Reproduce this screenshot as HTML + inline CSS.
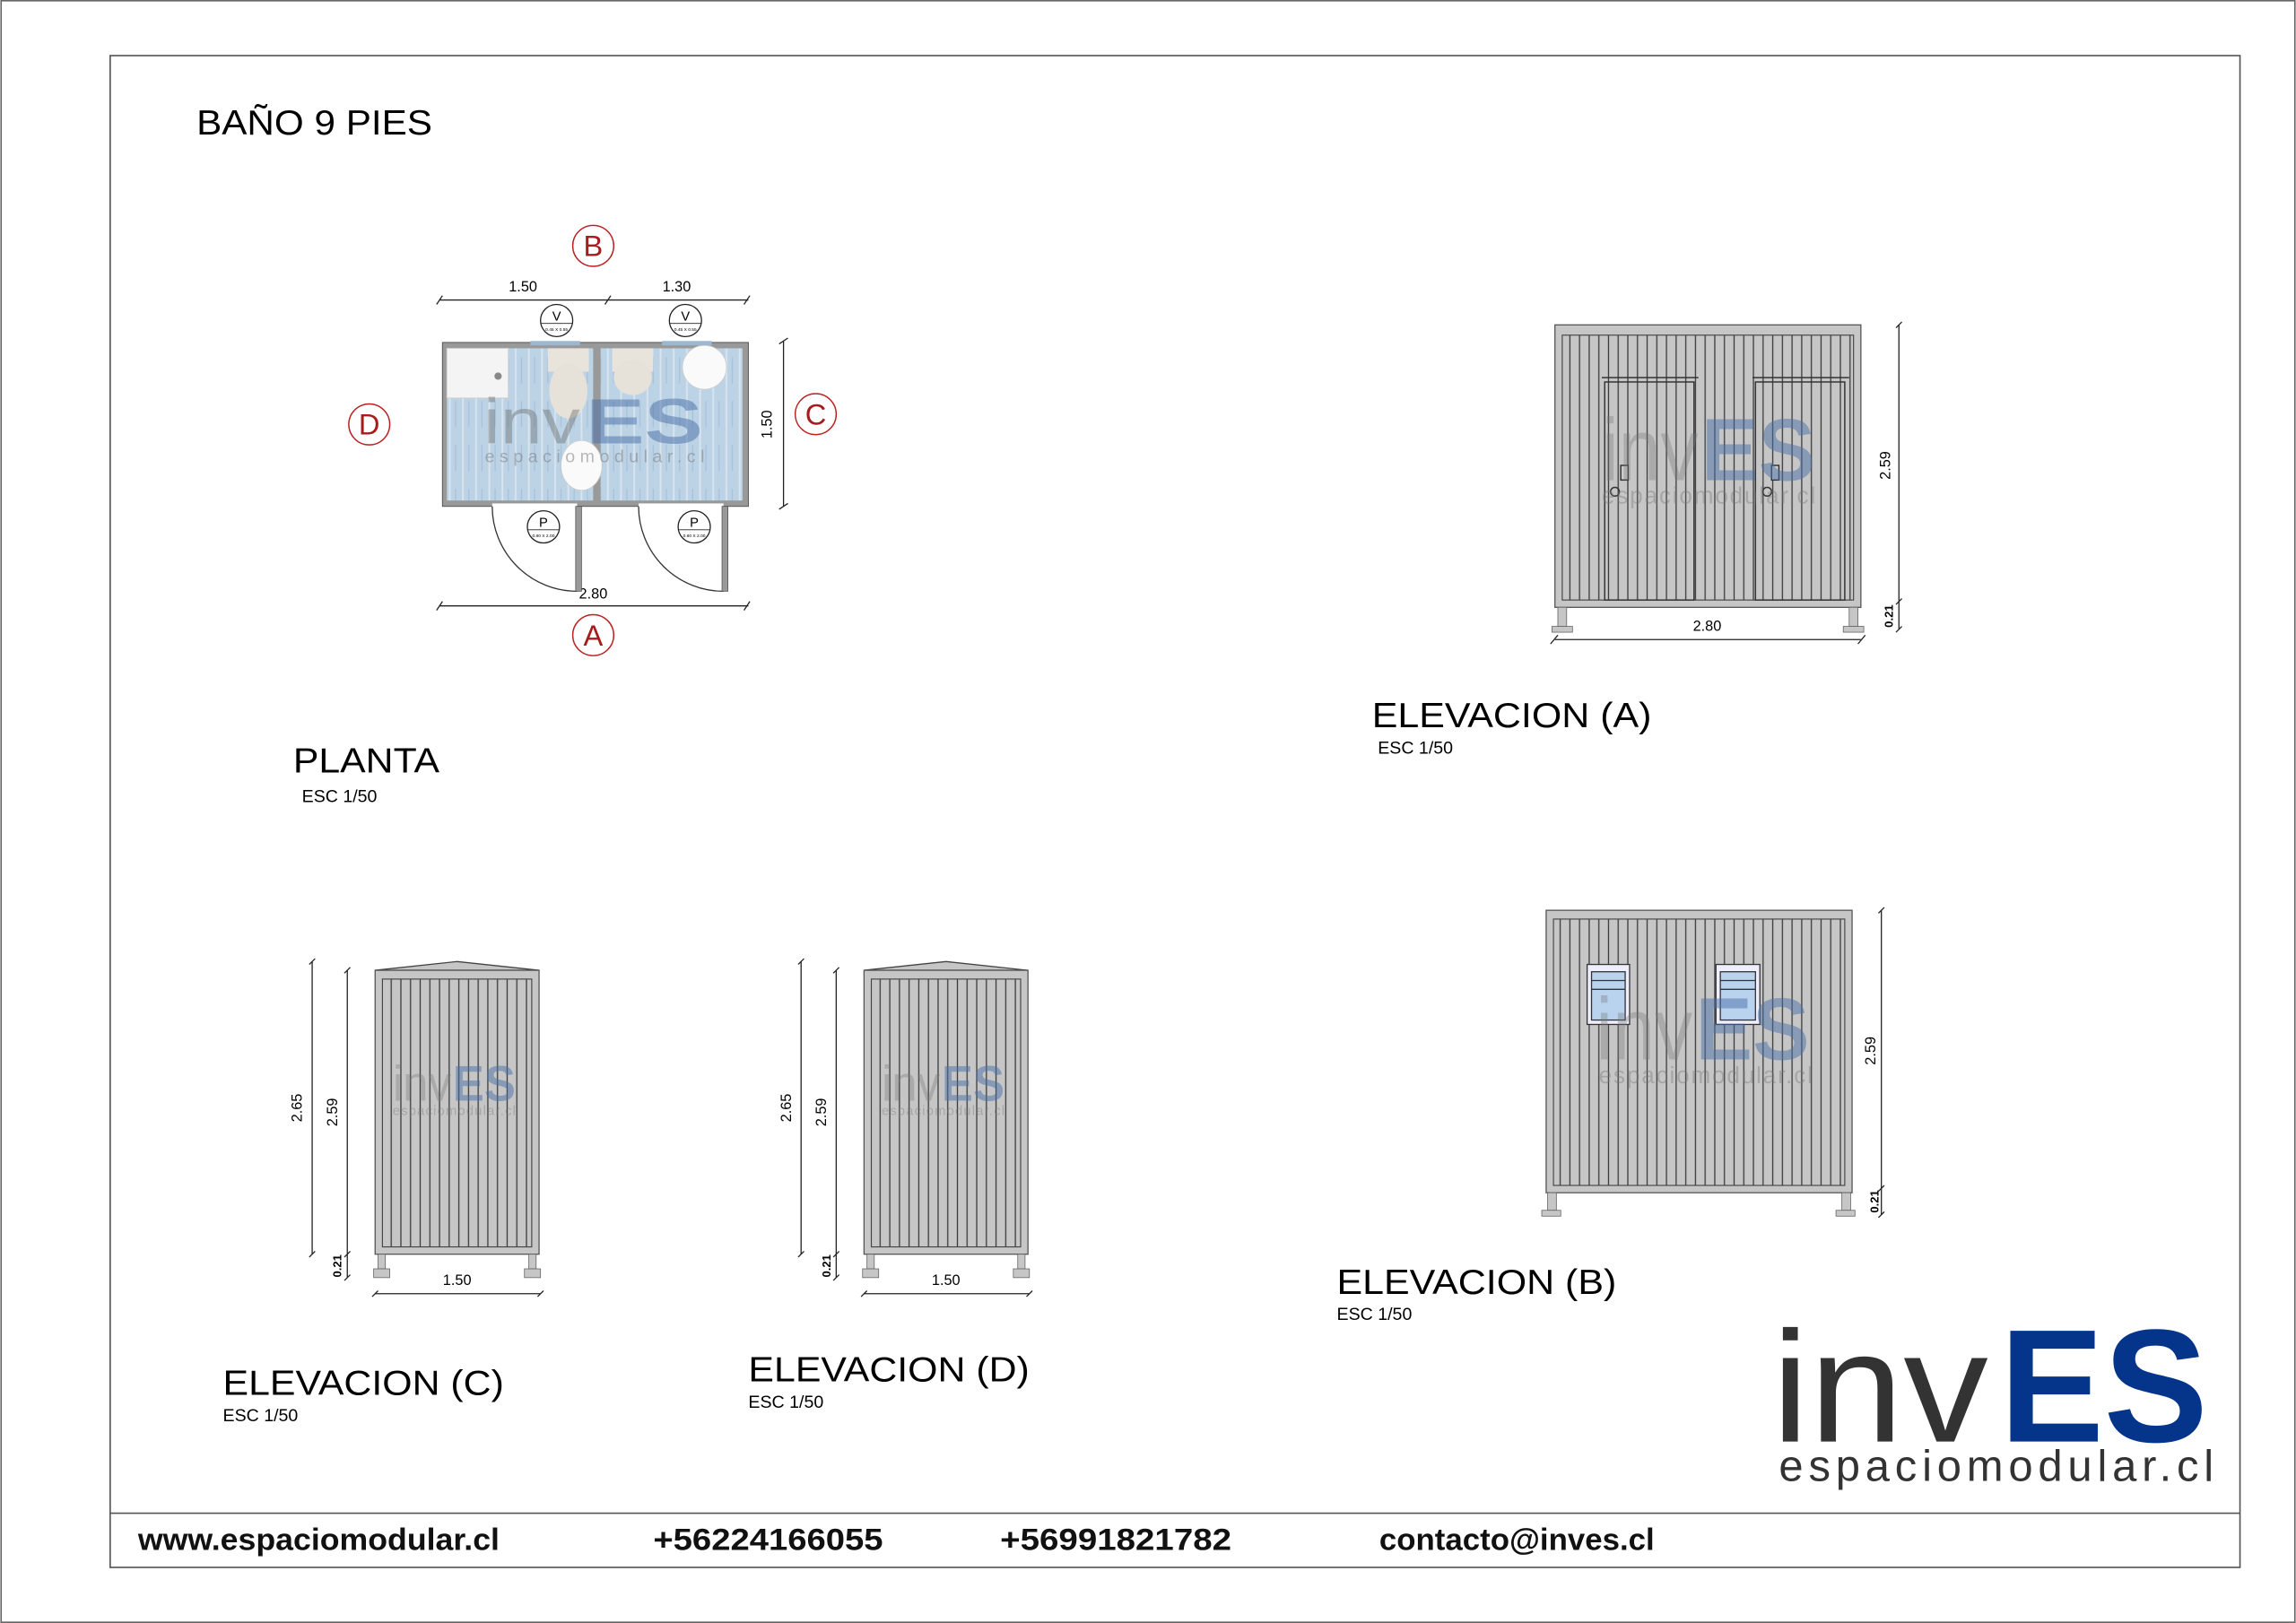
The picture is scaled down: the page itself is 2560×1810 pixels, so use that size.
<!DOCTYPE html>
<html><head><meta charset="utf-8"><style>
html,body{margin:0;padding:0;background:#fff}
svg{display:block}
text{font-family:"Liberation Sans",sans-serif}
</style></head><body>
<svg width="2560" height="1810" viewBox="0 0 1568 1109" xmlns="http://www.w3.org/2000/svg">
<defs>
<pattern id="pl" width="6.6" height="10" patternUnits="userSpaceOnUse">
<rect width="6.6" height="10" fill="#c6c6c6"/><line x1="3" y1="0" x2="3" y2="10" stroke="#3a3a3a" stroke-width="0.8"/>
</pattern>
<pattern id="wood" width="9" height="30" patternUnits="userSpaceOnUse">
<rect width="9" height="30" fill="#bcd3e6"/><line x1="1" y1="0" x2="1" y2="30" stroke="#d8e4ee" stroke-width="1.2"/><line x1="5" y1="4" x2="5" y2="22" stroke="#a9c2d8" stroke-width="0.8"/>
</pattern>
</defs>
<rect x="0.5" y="0.5" width="1567" height="1108" fill="#fff" stroke="#666" stroke-width="1"/>
<rect x="75" y="38" width="1455" height="1033" fill="none" stroke="#555" stroke-width="1"/>
<line x1="75" y1="1034" x2="1530" y2="1034" stroke="#555" stroke-width="1"/>

<text x="134" y="92" font-size="24" textLength="161" lengthAdjust="spacingAndGlyphs">BAÑO 9 PIES</text>

<!-- PLANTA -->
<g stroke="#222" stroke-width="0.8" fill="none">
<line x1="300" y1="205" x2="511" y2="205"/>
<line x1="298" y1="208" x2="302" y2="202"/><line x1="413" y1="208" x2="417" y2="202"/><line x1="508" y1="208" x2="512" y2="202"/>
<line x1="300" y1="414" x2="511" y2="414"/>
<line x1="298" y1="417" x2="302" y2="411"/><line x1="508" y1="417" x2="512" y2="411"/>
<line x1="535" y1="233" x2="535" y2="346"/>
<line x1="532" y1="235" x2="538" y2="231"/><line x1="532" y1="348" x2="538" y2="344"/>
</g>
<text x="357" y="199" font-size="10" text-anchor="middle">1.50</text>
<text x="462" y="199" font-size="10" text-anchor="middle">1.30</text>
<text x="405" y="409" font-size="10" text-anchor="middle">2.80</text>
<text transform="translate(527,290) rotate(-90)" font-size="10" text-anchor="middle">1.50</text>
<g fill="none" stroke="#b22" stroke-width="0.9">
<circle cx="405" cy="168" r="14"/><circle cx="252" cy="290" r="14"/><circle cx="557" cy="283" r="14"/><circle cx="405" cy="434" r="14"/>
</g>
<g fill="#a51c1c" font-size="20" text-anchor="middle">
<text x="405" y="175">B</text><text x="252" y="297">D</text><text x="557" y="290">C</text><text x="405" y="441">A</text>
</g>
<rect x="302" y="234" width="209" height="112" fill="#999" stroke="#555" stroke-width="0.6"/>
<rect x="305" y="238" width="100" height="104" fill="url(#wood)"/>
<rect x="410" y="238" width="97" height="104" fill="url(#wood)"/>
<rect x="405" y="238" width="5" height="104" fill="#999"/>
<rect x="305" y="238" width="42" height="34" fill="#f4f4f4" stroke="#ccc" stroke-width="0.6"/>
<circle cx="340" cy="257" r="2.5" fill="#888"/>
<rect x="374" y="238" width="28" height="16" fill="#e8e4dc"/><ellipse cx="388" cy="267" rx="13" ry="19" fill="#e6e2da"/>
<rect x="418" y="238" width="28" height="16" fill="#e8e4dc"/><ellipse cx="432" cy="258" rx="13" ry="12" fill="#e6e2da"/>
<ellipse cx="481" cy="251" rx="15" ry="15" fill="#fafafa" stroke="#ccc" stroke-width="0.5"/>
<ellipse cx="397" cy="318" rx="14" ry="17" fill="#fafafa" stroke="#ccc" stroke-width="0.5"/>
<rect x="362" y="233" width="34" height="3" fill="#9cb7d0"/><rect x="452" y="233" width="34" height="3" fill="#9cb7d0"/>
<text x="330" y="303" font-size="44" fill="#666" opacity="0.4" textLength="66" lengthAdjust="spacingAndGlyphs">inv</text>
<text x="400" y="303" font-size="44" font-weight="bold" fill="#4a6fa8" opacity="0.5" textLength="80" lengthAdjust="spacingAndGlyphs">ES</text>
<text x="331" y="316" font-size="12" fill="#777" opacity="0.5" textLength="150" lengthAdjust="spacing">espaciomodular.cl</text>
<!-- doors -->
<rect x="336" y="344" width="58" height="4" fill="#fff"/><rect x="436" y="344" width="58" height="4" fill="#fff"/>
<g stroke="#333" fill="none" stroke-width="0.8">
<path d="M336 346 A58 58 0 0 0 394 404"/><path d="M436 346 A58 58 0 0 0 494 404"/>
</g>
<rect x="393" y="346" width="4" height="58" fill="#999" stroke="#555" stroke-width="0.5"/>
<rect x="493" y="346" width="4" height="58" fill="#999" stroke="#555" stroke-width="0.5"/>
<g fill="#fff" stroke="#222" stroke-width="0.8">
<circle cx="380" cy="219" r="11"/><circle cx="468" cy="219" r="11"/><circle cx="371" cy="360" r="11"/><circle cx="474" cy="360" r="11"/>
</g>
<g stroke="#222" stroke-width="0.5"><line x1="369" y1="221" x2="391" y2="221"/><line x1="457" y1="221" x2="479" y2="221"/><line x1="360" y1="362" x2="382" y2="362"/><line x1="463" y1="362" x2="485" y2="362"/></g>
<g font-size="9" text-anchor="middle"><text x="380" y="219">V</text><text x="468" y="219">V</text><text x="371" y="360">P</text><text x="474" y="360">P</text></g>
<g font-size="3" text-anchor="middle"><text x="380" y="226">0.45 X 0.55</text><text x="468" y="226">0.45 X 0.55</text><text x="371" y="367">0.80 X 2.00</text><text x="474" y="367">0.80 X 2.00</text></g>
<text x="200" y="528" font-size="24" textLength="100" lengthAdjust="spacingAndGlyphs">PLANTA</text>
<text x="206" y="548" font-size="12">ESC 1/50</text>

<!-- ELEVACION A -->
<rect x="1062" y="222" width="209" height="193" fill="#c6c6c6" stroke="#555" stroke-width="0.8"/>
<rect x="1067" y="229" width="199" height="181" fill="url(#pl)" stroke="#444" stroke-width="0.7"/>
<g fill="#c6c6c6" stroke="#666" stroke-width="0.5">
<rect x="1064" y="415" width="6" height="13"/><rect x="1060" y="428" width="14" height="4"/>
<rect x="1263" y="415" width="6" height="13"/><rect x="1259" y="428" width="14" height="4"/>
</g>
<g fill="none" stroke="#333" stroke-width="0.9">
<line x1="1094" y1="258" x2="1160" y2="258"/><rect x="1096" y="261" width="61" height="149"/>
<line x1="1197" y1="258" x2="1263" y2="258"/><rect x="1199" y="261" width="61" height="149"/>
<rect x="1107" y="318" width="5" height="10" fill="#ccc"/><circle cx="1103" cy="336" r="3"/>
<rect x="1210" y="318" width="5" height="10" fill="#ccc"/><circle cx="1207" cy="336" r="3"/>
</g>
<text x="1094" y="328" font-size="60" fill="#777" opacity="0.35" textLength="66" lengthAdjust="spacingAndGlyphs">inv</text>
<text x="1162" y="328" font-size="60" font-weight="bold" fill="#4a6fa8" opacity="0.5" textLength="78" lengthAdjust="spacingAndGlyphs">ES</text>
<text x="1094" y="344" font-size="16" fill="#777" opacity="0.4" textLength="146" lengthAdjust="spacing">espaciomodular.cl</text>
<g stroke="#222" stroke-width="0.8">
<line x1="1062" y1="437" x2="1271" y2="437"/><line x1="1059" y1="440" x2="1064" y2="434"/><line x1="1269" y1="440" x2="1274" y2="434"/>
<line x1="1297" y1="222" x2="1297" y2="430"/><line x1="1295" y1="224" x2="1299" y2="220"/><line x1="1295" y1="413" x2="1299" y2="409"/><line x1="1295" y1="432" x2="1299" y2="428"/>
</g>
<text x="1166" y="431" font-size="10" text-anchor="middle">2.80</text>
<text transform="translate(1291,318) rotate(-90)" font-size="10" text-anchor="middle">2.59</text>
<text transform="translate(1293,421) rotate(-90)" font-size="8" font-weight="bold" text-anchor="middle">0.21</text>
<text x="937" y="497" font-size="24" textLength="191" lengthAdjust="spacingAndGlyphs">ELEVACION (A)</text>
<text x="941" y="515" font-size="12">ESC 1/50</text>

<!-- ELEVACION B -->
<rect x="1056" y="622" width="209" height="193" fill="#c6c6c6" stroke="#555" stroke-width="0.8"/>
<rect x="1061" y="628" width="199" height="182" fill="url(#pl)" stroke="#444" stroke-width="0.7"/>
<g fill="#c6c6c6" stroke="#666" stroke-width="0.5">
<rect x="1057" y="815" width="6" height="12"/><rect x="1053" y="827" width="13" height="4"/>
<rect x="1258" y="815" width="6" height="12"/><rect x="1254" y="827" width="13" height="4"/>
</g>
<g stroke="#333" stroke-width="0.8">
<rect x="1084" y="659" width="29" height="41" fill="#eef"/><rect x="1087" y="664" width="23" height="33" fill="#b9d3ee"/>
<rect x="1172" y="659" width="30" height="41" fill="#eef"/><rect x="1175" y="664" width="24" height="33" fill="#b9d3ee"/>
<line x1="1087" y1="670" x2="1110" y2="670"/><line x1="1087" y1="676" x2="1110" y2="676"/>
<line x1="1175" y1="670" x2="1199" y2="670"/><line x1="1175" y1="676" x2="1199" y2="676"/>
</g>
<text x="1090" y="724" font-size="60" fill="#777" opacity="0.35" textLength="66" lengthAdjust="spacingAndGlyphs">inv</text>
<text x="1158" y="724" font-size="60" font-weight="bold" fill="#4a6fa8" opacity="0.5" textLength="78" lengthAdjust="spacingAndGlyphs">ES</text>
<text x="1092" y="740" font-size="16" fill="#777" opacity="0.4" textLength="146" lengthAdjust="spacing">espaciomodular.cl</text>
<g stroke="#222" stroke-width="0.8">
<line x1="1285" y1="622" x2="1285" y2="830"/><line x1="1283" y1="624" x2="1287" y2="620"/><line x1="1283" y1="814" x2="1287" y2="810"/><line x1="1283" y1="832" x2="1287" y2="828"/>
</g>
<text transform="translate(1281,718) rotate(-90)" font-size="10" text-anchor="middle">2.59</text>
<text transform="translate(1283,821) rotate(-90)" font-size="8" font-weight="bold" text-anchor="middle">0.21</text>
<text x="913" y="884" font-size="24" textLength="191" lengthAdjust="spacingAndGlyphs">ELEVACION (B)</text>
<text x="913" y="902" font-size="12">ESC 1/50</text>

<!-- ELEVACION C & D -->
<g id="elc">
<polygon points="256,663 312,657 368,663" fill="#c6c6c6" stroke="#444" stroke-width="0.8"/>
<rect x="256" y="663" width="112" height="194" fill="#c6c6c6" stroke="#555" stroke-width="0.8"/>
<rect x="261" y="669" width="102" height="183" fill="url(#pl)" stroke="#444" stroke-width="0.7"/>
<g fill="#c6c6c6" stroke="#666" stroke-width="0.5">
<rect x="258" y="857" width="5" height="10"/><rect x="255" y="867" width="11" height="6"/>
<rect x="361" y="857" width="5" height="10"/><rect x="358" y="867" width="11" height="6"/>
</g>
<text x="268" y="752" font-size="34" fill="#777" opacity="0.35" textLength="40" lengthAdjust="spacingAndGlyphs">inv</text>
<text x="309" y="752" font-size="34" font-weight="bold" fill="#4a6fa8" opacity="0.5" textLength="43" lengthAdjust="spacingAndGlyphs">ES</text>
<text x="268" y="762" font-size="9" fill="#777" opacity="0.4" textLength="84" lengthAdjust="spacing">espaciomodular.cl</text>
<g stroke="#222" stroke-width="0.8">
<line x1="213" y1="657" x2="213" y2="857"/><line x1="211" y1="659" x2="215" y2="655"/><line x1="211" y1="859" x2="215" y2="855"/>
<line x1="237" y1="663" x2="237" y2="873"/><line x1="235" y1="665" x2="239" y2="661"/><line x1="235" y1="859" x2="239" y2="855"/><line x1="235" y1="875" x2="239" y2="871"/>
<line x1="256" y1="884" x2="369" y2="884"/><line x1="254" y1="886" x2="258" y2="882"/><line x1="367" y1="886" x2="371" y2="882"/>
</g>
<text transform="translate(206,757) rotate(-90)" font-size="10" text-anchor="middle">2.65</text>
<text transform="translate(230,760) rotate(-90)" font-size="10" text-anchor="middle">2.59</text>
<text transform="translate(233,865) rotate(-90)" font-size="8" font-weight="bold" text-anchor="middle">0.21</text>
<text x="312" y="878" font-size="10" text-anchor="middle">1.50</text>
</g>
<use href="#elc" transform="translate(334,0)"/>
<text x="152" y="953" font-size="24" textLength="192" lengthAdjust="spacingAndGlyphs">ELEVACION (C)</text>
<text x="152" y="971" font-size="12">ESC 1/50</text>
<text x="511" y="944" font-size="24" textLength="192" lengthAdjust="spacingAndGlyphs">ELEVACION (D)</text>
<text x="511" y="962" font-size="12">ESC 1/50</text>

<!-- LOGO -->
<text x="1210" y="985" font-size="108" fill="#333" textLength="148" lengthAdjust="spacingAndGlyphs">inv</text>
<text x="1366" y="985" font-size="110" font-weight="bold" fill="#04358a" textLength="142" lengthAdjust="spacingAndGlyphs">ES</text>
<text x="1215" y="1012" font-size="30" fill="#333" textLength="297" lengthAdjust="spacing">espaciomodular.cl</text>

<!-- FOOTER -->
<g font-size="21" font-weight="bold" fill="#111">
<text x="94" y="1059" textLength="247" lengthAdjust="spacingAndGlyphs">www.espaciomodular.cl</text>
<text x="446" y="1059" textLength="157" lengthAdjust="spacingAndGlyphs">+56224166055</text>
<text x="683" y="1059" textLength="158" lengthAdjust="spacingAndGlyphs">+56991821782</text>
<text x="942" y="1059" textLength="188" lengthAdjust="spacingAndGlyphs">contacto@inves.cl</text>
</g>
</svg>
</body></html>
